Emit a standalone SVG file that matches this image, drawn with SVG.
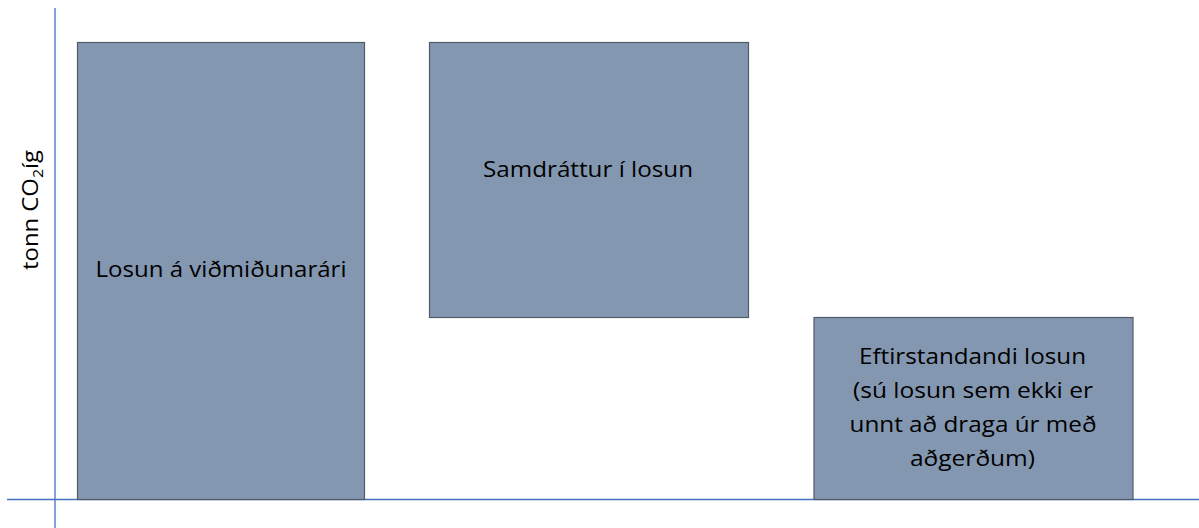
<svg xmlns="http://www.w3.org/2000/svg" width="1199" height="528" viewBox="0 0 1199 528">
<style>
.bar{fill:#8497B0;stroke:#4F5B6B;stroke-width:1.2}
.lbl{font-family:"Open Sans","Noto Sans","Liberation Sans",sans-serif;font-size:22.5px;fill:#000;text-anchor:middle}
.axis{stroke:#4472C4;stroke-width:1.3;fill:none}
</style>
<rect width="1199" height="528" fill="#fff"/>
<g id="axes">
<line class="axis" x1="55" y1="8" x2="55" y2="528"/>
<line class="axis" x1="7" y1="499.5" x2="1199" y2="499.5"/>
</g>
<g id="ylabel">
<text class="lbl" transform="translate(38,210) rotate(-90)" textLength="120" lengthAdjust="spacingAndGlyphs">tonn CO<tspan font-size="15" dy="5">2</tspan><tspan dy="-5">íg</tspan></text>
</g>
<g id="baseline">
<rect class="bar" x="77.5" y="42.5" width="287" height="457"/>
<text class="lbl" x="221" y="277" textLength="251" lengthAdjust="spacingAndGlyphs">Losun á viðmiðunarári</text>
</g>
<g id="reduction">
<rect class="bar" x="429.5" y="42.5" width="319" height="275"/>
<text class="lbl" x="588" y="177" textLength="210" lengthAdjust="spacingAndGlyphs">Samdráttur í losun</text>
</g>
<g id="remaining">
<rect class="bar" x="814" y="317.5" width="319" height="182"/>
<text class="lbl" x="972.5" y="364" textLength="227" lengthAdjust="spacingAndGlyphs">Eftirstandandi losun</text>
<text class="lbl" x="973" y="398" textLength="240" lengthAdjust="spacingAndGlyphs">(sú losun sem ekki er</text>
<text class="lbl" x="973" y="432" textLength="247" lengthAdjust="spacingAndGlyphs">unnt að draga úr með</text>
<text class="lbl" x="972.5" y="466" textLength="125" lengthAdjust="spacingAndGlyphs">aðgerðum)</text>
</g>
<g id="connectors"></g>
</svg>
